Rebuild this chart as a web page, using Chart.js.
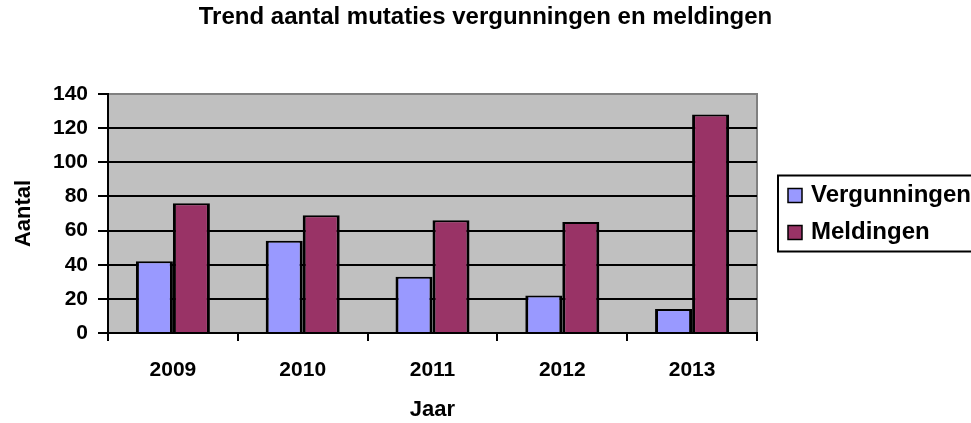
<!DOCTYPE html>
<html>
<head>
<meta charset="utf-8">
<title>Trend aantal mutaties</title>
<script src="https://cdn.jsdelivr.net/npm/chart.js@4/dist/chart.umd.min.js"></script>
<style>
	body { margin: 0; background: #fff; }
</style>
</head>
<body>
<canvas id="barChart" width="971" height="423"></canvas>
<script>
const years = ['2009', '2010', '2011', '2012', '2013'];
const vergunningen = [42, 54, 33, 22, 14];
const meldingen = [76, 69, 66, 65, 128];
const yTicks = [0, 20, 40, 60, 80, 100, 120, 140];

const font = '"Liberation Sans", Arial, sans-serif';

// grey plot area with a grey frame on top and right
const plotArea = {
	id: 'plotArea',
	beforeDraw(chart) {
		const ctx = chart.ctx;
		const a = chart.chartArea;
		ctx.save();
		ctx.fillStyle = '#C0C0C0';
		ctx.fillRect(a.left, a.top, a.right - a.left, a.bottom - a.top);
		ctx.strokeStyle = '#808080';
		ctx.lineWidth = 2;
		ctx.strokeRect(a.left, a.top, a.right - a.left, a.bottom - a.top);
		ctx.restore();
	}
};

// boxed legend to the right of the plot, like the excel one
const legendBox = {
	id: 'legendBox',
	afterDraw(chart) {
		const ctx = chart.ctx;
		const a = chart.chartArea;
		const left = a.right + 21;
		const top = (a.top + a.bottom) / 2 - 38;
		ctx.save();
		ctx.lineWidth = 2;
		ctx.strokeStyle = '#000';
		ctx.strokeRect(left, top, 260, 76);
		ctx.font = 'bold 24px ' + font;
		ctx.textBaseline = 'middle';
		chart.data.datasets.forEach(function (ds, i) {
			const y = top + 20 + i * 37;
			ctx.fillStyle = ds.backgroundColor;
			ctx.fillRect(left + 10, y - 7, 14, 14);
			ctx.lineWidth = 1.5;
			ctx.strokeRect(left + 10, y - 7, 14, 14);
			ctx.fillStyle = '#000';
			ctx.fillText(ds.label, left + 33, y);
		});
		ctx.restore();
	}
};

window.onload = function () {
	const dataCanvasBar = document.getElementById('barChart');
	const dataBar = {
		labels: years,
		datasets: [
			{
				label: 'Vergunningen',
				data: vergunningen,
				backgroundColor: '#9999FF',
				borderColor: '#000',
				borderWidth: { top: 2, left: 3, right: 3, bottom: 0 }
			},
			{
				label: 'Meldingen',
				data: meldingen,
				backgroundColor: '#993366',
				borderColor: '#000',
				borderWidth: { top: 2, left: 3, right: 3, bottom: 0 }
			}
		]
	};
	const optionsBar = {
		responsive: false,
		animation: false,
		layout: {
			padding: 0
		},
		categoryPercentage: 0.57,
		barPercentage: 1,
		plugins: {
			legend: { display: false },
			tooltip: { enabled: false },
			title: {
				display: true,
				text: 'Trend aantal mutaties vergunningen en meldingen',
				color: '#000',
				font: { family: font, size: 24, weight: 'bold' },
				padding: { top: 3, bottom: 62.2 }
			}
		},
		scales: {
			x: {
				grid: {
					drawOnChartArea: false,
					drawTicks: true,
					tickLength: 8,
					tickColor: '#000',
					lineWidth: 2
				},
				border: { display: true, color: '#000', width: 2 },
				ticks: {
					color: '#000',
					padding: 17,
					font: { family: font, size: 21, weight: 'bold' }
				},
				title: {
					display: true,
					text: 'Jaar',
					color: '#000',
					padding: { top: 0, bottom: 0 },
					font: { family: font, size: 22, weight: 'bold' }
				},
				afterFit: function (scale) { scale.height = 90; }
			},
			y: {
				min: yTicks[0],
				max: yTicks[yTicks.length - 1],
				afterBuildTicks: function (scale) {
					scale.ticks = yTicks.map(function (v) { return { value: v }; });
				},
				grid: {
					color: function (c) { return c.tick && c.tick.value === 140 ? '#808080' : '#000'; },
					tickColor: '#000',
					lineWidth: 2,
					tickLength: 10
				},
				border: { display: true, color: '#000', width: 2 },
				ticks: {
					color: '#000',
					padding: 10,
					font: { family: font, size: 21, weight: 'bold' }
				},
				title: {
					display: true,
					text: 'Aantal',
					color: '#000',
					padding: { top: 11, bottom: 0 },
					font: { family: font, size: 22, weight: 'bold' }
				},
				afterFit: function (scale) { scale.width = 108; }
			},
			// empty axis on the right, only keeps room for the legend box
			legendSpace: {
				type: 'linear',
				position: 'right',
				grid: { display: false, drawTicks: false },
				border: { display: false },
				ticks: { display: false },
				afterFit: function (scale) { scale.width = 214; }
			}
		}
	};
	const barChartData = new Chart(dataCanvasBar, {
		type: 'bar',
		data: dataBar,
		options: optionsBar,
		plugins: [plotArea, legendBox]
	});
};
</script>
</body>
</html>
